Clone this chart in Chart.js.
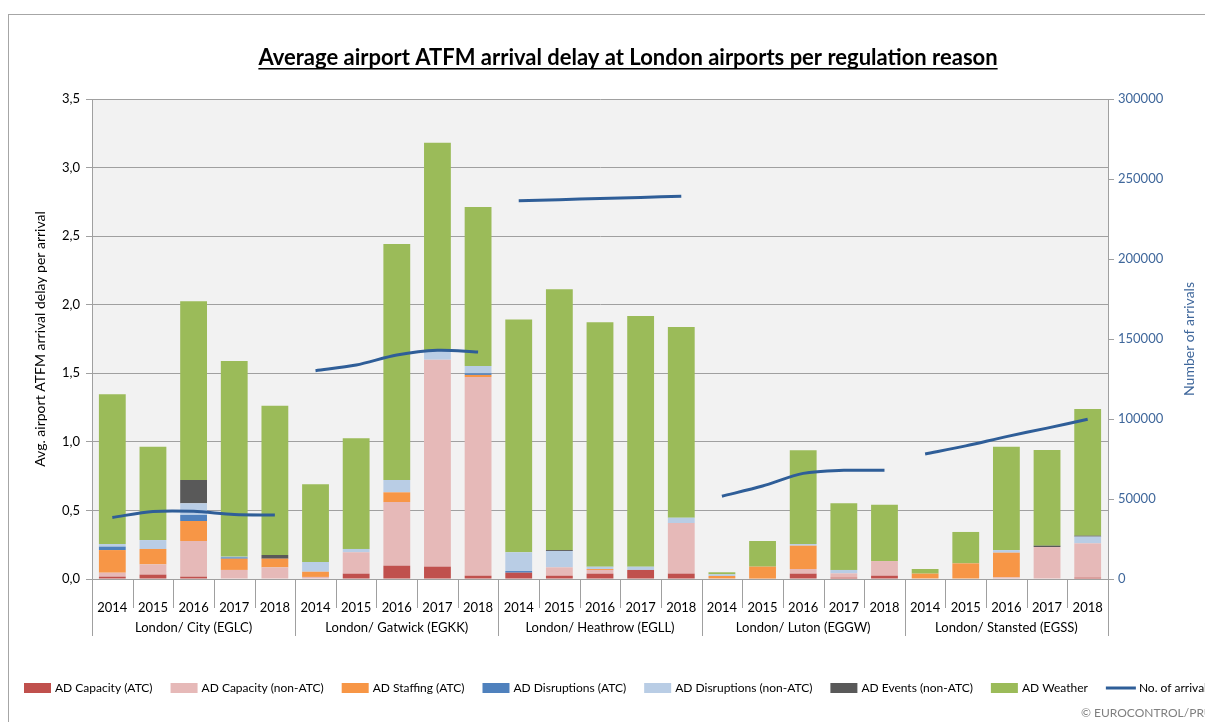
<!DOCTYPE html>
<html>
<head>
<meta charset="utf-8">
<script src="https://cdn.jsdelivr.net/npm/chart.js@4.4.1/dist/chart.umd.min.js"></script>
<style>
  html, body { margin: 0; padding: 0; background: #fff; overflow: hidden; }
  #wrap { position: relative; width: 1205px; height: 722px; }
</style>
</head>
<body>
<div id="wrap"><canvas id="c" width="1205" height="722"></canvas></div>
<script>
// ---- data ----
const airports = ['London/ City (EGLC)', 'London/ Gatwick (EGKK)', 'London/ Heathrow (EGLL)', 'London/ Luton (EGGW)', 'London/ Stansted (EGSS)'];
const years = ['2014', '2015', '2016', '2017', '2018'];

// Average delay per arrival (minutes), one value per airport-year, City → Stansted
const capacityATC = [
  0.017, 0.032, 0.017, 0.000, 0.000,
  0.000, 0.039, 0.097, 0.090, 0.024,
  0.046, 0.024, 0.039, 0.066, 0.039,
  0.000, 0.000, 0.039, 0.010, 0.024,
  0.000, 0.000, 0.000, 0.000, 0.010
];
const capacityNonATC = [
  0.029, 0.075, 0.260, 0.066, 0.085,
  0.015, 0.156, 0.464, 1.509, 1.449,
  0.000, 0.061, 0.027, 0.000, 0.369,
  0.004, 0.003, 0.034, 0.031, 0.107,
  0.004, 0.000, 0.012, 0.233, 0.250
];
const staffingATC = [
  0.165, 0.112, 0.146, 0.082, 0.063,
  0.038, 0.000, 0.071, 0.000, 0.015,
  0.000, 0.000, 0.007, 0.000, 0.000,
  0.018, 0.087, 0.170, 0.000, 0.000,
  0.035, 0.114, 0.180, 0.000, 0.000
];
const disruptionsATC = [
  0.025, 0.000, 0.044, 0.010, 0.000,
  0.000, 0.000, 0.000, 0.000, 0.012,
  0.012, 0.000, 0.000, 0.000, 0.000,
  0.000, 0.000, 0.000, 0.000, 0.000,
  0.000, 0.000, 0.000, 0.000, 0.000
];
const disruptionsNonATC = [
  0.019, 0.065, 0.085, 0.005, 0.000,
  0.071, 0.024, 0.090, 0.071, 0.053,
  0.137, 0.119, 0.017, 0.024, 0.039,
  0.012, 0.000, 0.012, 0.025, 0.000,
  0.000, 0.000, 0.019, 0.000, 0.049
];
const eventsNonATC = [
  0.000, 0.000, 0.170, 0.000, 0.027,
  0.000, 0.000, 0.000, 0.000, 0.000,
  0.000, 0.007, 0.000, 0.000, 0.000,
  0.000, 0.000, 0.000, 0.000, 0.000,
  0.000, 0.000, 0.000, 0.010, 0.007
];
const weather = [
  1.092, 0.681, 1.303, 1.427, 1.089,
  0.566, 0.807, 1.721, 1.511, 1.160,
  1.698, 1.901, 1.782, 1.828, 1.391,
  0.015, 0.187, 0.683, 0.486, 0.411,
  0.034, 0.229, 0.754, 0.698, 0.924
];
// Number of arrivals per airport-year
const arrivals = [
  38500, 42200, 42300, 40300, 40000,
  130200, 133700, 140000, 143000, 141900,
  236400, 237100, 237800, 238500, 239200,
  51700, 58100, 66000, 67900, 67900,
  78100, 83200, 89000, 94300, 99800
];
const delayTicks = [0, 0.5, 1.0, 1.5, 2.0, 2.5, 3.0, 3.5];
const arrivalTicks = [0, 50000, 100000, 150000, 200000, 250000, 300000];

const title = 'Average airport ATFM arrival delay at London airports per regulation reason';
const leftTitle = 'Avg. airport ATFM arrival delay per arrival';
const rightTitle = 'Number of arrivals';
const credit = '\u00A9 EUROCONTROL/PRU';

// ---- styling ----
const FONT = 'Lato, "Open Sans", sans-serif';
const GRID = '#a0a0a0';
const LINE_BLUE = '#2f5e98';
const AXIS_BLUE = '#3f679b';

const barSeries = [
  { label: 'AD Capacity (ATC)', data: capacityATC, color: '#c0504d' },
  { label: 'AD Capacity (non-ATC)', data: capacityNonATC, color: '#e6b9b8' },
  { label: 'AD Staffing (ATC)', data: staffingATC, color: '#f79646' },
  { label: 'AD Disruptions (ATC)', data: disruptionsATC, color: '#4f81bd' },
  { label: 'AD Disruptions (non-ATC)', data: disruptionsNonATC, color: '#b9cde5' },
  { label: 'AD Events (non-ATC)', data: eventsNonATC, color: '#595959' },
  { label: 'AD Weather', data: weather, color: '#9bbb59' }
];
const lineLabel = 'No. of arrivals';

const labels = [];
airports.forEach(() => years.forEach(y => labels.push(y)));

const datasets = barSeries.map(s => ({
  type: 'bar',
  label: s.label,
  data: s.data,
  backgroundColor: s.color,
  borderWidth: 0,
  yAxisID: 'y',
  stack: 'delay',
  order: 1,
  barPercentage: 0.66,
  categoryPercentage: 1.0
}));

// one line per airport so the series breaks between groups
airports.forEach((a, g) => {
  datasets.push({
    type: 'line',
    label: lineLabel,
    data: arrivals.map((v, i) => (Math.floor(i / years.length) === g ? v : null)),
    borderColor: LINE_BLUE,
    borderWidth: 3,
    pointRadius: 0,
    tension: 0.3,
    spanGaps: false,
    fill: false,
    yAxisID: 'y2',
    order: 0
  });
});

const decor = {
  id: 'decor',
  beforeDraw(chart) {
    const { ctx, chartArea: a } = chart;
    ctx.save();
    ctx.fillStyle = '#f2f2f2';
    ctx.fillRect(a.left, a.top, a.right - a.left, a.bottom - a.top);
    ctx.strokeStyle = '#a6a6a6';
    ctx.lineWidth = 1;
    ctx.strokeRect(8.5, 14.5, 1400, 900);
    ctx.restore();
  },
  afterDraw(chart) {
    const { ctx, chartArea: a } = chart;
    const xs = chart.scales.x;
    ctx.save();

    // title with underline
    ctx.font = 'bold 22px ' + FONT;
    ctx.fillStyle = '#000';
    ctx.textAlign = 'center';
    ctx.textBaseline = 'alphabetic';
    const tx = 628, ty = 65;
    ctx.fillText(title, tx, ty);
    const tw = ctx.measureText(title).width;
    ctx.fillRect(tx - tw / 2, ty + 3, tw, 1.5);

    // axis titles
    const midY = (a.top + a.bottom) / 2;
    ctx.font = '14px ' + FONT;
    ctx.textBaseline = 'middle';
    ctx.save();
    ctx.translate(40, midY);
    ctx.rotate(-Math.PI / 2);
    ctx.fillStyle = '#000';
    ctx.fillText(leftTitle, 0, 0);
    ctx.restore();
    ctx.save();
    ctx.translate(1189, midY);
    ctx.rotate(-Math.PI / 2);
    ctx.fillStyle = AXIS_BLUE;
    ctx.fillText(rightTitle, 0, 0);
    ctx.restore();

    // category separators (years and airport groups)
    ctx.strokeStyle = GRID;
    ctx.lineWidth = 1;
    const n = labels.length;
    for (let i = 0; i <= n; i++) {
      const x = Math.round(xs.getPixelForValue(i - 0.5)) + 0.5;
      const isGroup = i % years.length === 0;
      ctx.beginPath();
      ctx.moveTo(x, a.bottom);
      ctx.lineTo(x, a.bottom + (isGroup ? 57 : 29));
      ctx.stroke();
    }

    // airport group labels
    ctx.fillStyle = '#000';
    ctx.font = '13px ' + FONT;
    ctx.textAlign = 'center';
    ctx.textBaseline = 'middle';
    airports.forEach((name, g) => {
      const x0 = xs.getPixelForValue(g * years.length - 0.5);
      const x1 = xs.getPixelForValue((g + 1) * years.length - 0.5);
      ctx.fillText(name, (x0 + x1) / 2, 628);
    });

    // legend
    ctx.font = '12px ' + FONT;
    ctx.textAlign = 'left';
    ctx.textBaseline = 'middle';
    let lx = 24;
    const ly = 688;
    barSeries.forEach(s => {
      ctx.fillStyle = s.color;
      ctx.fillRect(lx, ly - 5, 27, 10);
      ctx.fillStyle = '#000';
      ctx.fillText(s.label, lx + 31, ly);
      lx += 31 + ctx.measureText(s.label).width + 18;
    });
    ctx.strokeStyle = LINE_BLUE;
    ctx.lineWidth = 3;
    ctx.beginPath();
    ctx.moveTo(lx, ly);
    ctx.lineTo(lx + 30, ly);
    ctx.stroke();
    ctx.fillStyle = '#000';
    ctx.fillText(lineLabel, lx + 33, ly);

    // credit
    ctx.fillStyle = '#7f7f7f';
    ctx.font = '12px ' + FONT;
    ctx.fillText(credit, 1081, 713);

    ctx.restore();
  }
};

new Chart(document.getElementById('c'), {
  data: { labels, datasets },
  options: {
    responsive: false,
    animation: false,
    devicePixelRatio: 1,
    layout: { padding: { top: 99, left: 0, right: 0, bottom: 0 } },
    plugins: {
      legend: { display: false },
      title: { display: false },
      tooltip: { enabled: false }
    },
    scales: {
      x: {
        type: 'category',
        stacked: true,
        offset: true,
        grid: { display: false },
        border: { display: true, color: GRID },
        ticks: { color: '#000', font: { family: FONT, size: 13 }, padding: 13, maxRotation: 0, autoSkip: false },
        afterFit(s) { s.height = 143; }
      },
      y: {
        position: 'left',
        stacked: true,
        min: 0,
        max: 3.5,
        afterBuildTicks(s) { s.ticks = delayTicks.map(v => ({ value: v })); },
        ticks: {
          color: '#000',
          font: { family: FONT, size: 13 },
          padding: 6,
          callback: v => Number(v).toFixed(1).replace('.', ',')
        },
        grid: { color: GRID, tickLength: 6 },
        border: { color: GRID },
        afterFit(s) { s.width = 92; }
      },
      y2: {
        position: 'right',
        min: 0,
        max: 300000,
        afterBuildTicks(s) { s.ticks = arrivalTicks.map(v => ({ value: v })); },
        ticks: { color: AXIS_BLUE, font: { family: FONT, size: 13 }, padding: 4, callback: v => String(v) },
        grid: { drawOnChartArea: false, color: GRID, tickLength: 6 },
        border: { color: GRID },
        afterFit(s) { s.width = 97; }
      }
    }
  },
  plugins: [decor]
});
</script>
</body>
</html>
